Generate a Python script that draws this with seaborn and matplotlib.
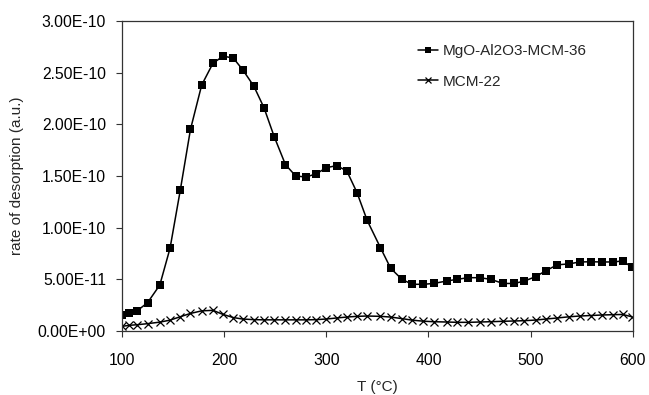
import numpy as np
import matplotlib
matplotlib.use("Agg")
import matplotlib.pyplot as plt
from matplotlib.ticker import FuncFormatter
import seaborn as sns

# temperature (°C)
temp = [100, 107, 115, 125, 137, 147, 157, 167, 178, 189, 199, 209, 218, 229, 239,
        249, 260, 270, 280, 290, 300, 310, 320, 330, 340, 353, 363, 374, 384, 395,
        405, 418, 428, 439, 450, 461, 473, 484, 494, 505, 515, 526, 538, 548, 559,
        570, 581, 590, 599]
# MgO-Al2O3-MCM-36 (x1e-11)
mgo = [1.55, 1.71, 1.97, 2.74, 4.45, 8.0, 13.6, 19.5, 23.8, 25.9, 26.6, 26.4, 25.3,
       23.7, 21.6, 18.8, 16.1, 15.0, 14.9, 15.2, 15.8, 16.0, 15.5, 13.4, 10.7, 8.06,
       6.07, 5.0, 4.52, 4.52, 4.6, 4.84, 5.0, 5.16, 5.16, 5.0, 4.6, 4.6, 4.84, 5.26,
       5.84, 6.4, 6.5, 6.68, 6.7, 6.68, 6.68, 6.78, 6.2]
# MCM-22 (x1e-11)
mcm = [0.45, 0.55, 0.61, 0.71, 0.86, 1.05, 1.38, 1.7, 1.95, 2.0, 1.6, 1.3, 1.16,
       1.1, 1.08, 1.08, 1.08, 1.08, 1.08, 1.1, 1.16, 1.26, 1.35, 1.42, 1.45, 1.42,
       1.35, 1.2, 1.05, 0.95, 0.9, 0.87, 0.84, 0.84, 0.87, 0.9, 0.94, 0.97, 1.0,
       1.06, 1.16, 1.26, 1.38, 1.45, 1.5, 1.55, 1.58, 1.6, 1.38]

sns.set_style("ticks")
plt.rcParams['font.family'] = ['Liberation Sans', 'DejaVu Sans']

fig = plt.figure(figsize=(6.49, 3.95), dpi=100)
ax = fig.add_axes([0.188, 0.162, 0.787, 0.785])

sns.lineplot(x=temp, y=np.array(mgo) * 1e-11, marker='s', markersize=6,
             markeredgewidth=0, color='black', linewidth=1.1,
             label='MgO-Al2O3-MCM-36', ax=ax)
sns.lineplot(x=temp, y=np.array(mcm) * 1e-11, marker='x', markersize=6,
             markeredgewidth=0.9, markeredgecolor='black', color='black',
             linewidth=1.1, label='MCM-22', ax=ax)

ax.set_xlim(100, 600)
ax.set_ylim(0, 3e-10)
ax.set_xticks([100, 200, 300, 400, 500, 600])
ax.set_yticks(np.arange(0, 3.01e-10, 5e-11))
ax.yaxis.set_major_formatter(FuncFormatter(lambda v, p: f"{v:.2E}"))
ax.tick_params(axis='both', labelsize=11.3, length=4.5, width=0.8, color='#333333',
               labelcolor='black')
ax.tick_params(axis='x', pad=11)
ax.tick_params(axis='y', pad=7)
ax.yaxis.get_offset_text().set_visible(False)
for s in ax.spines.values():
    s.set_visible(True)
    s.set_color('#333333')
    s.set_linewidth(0.9)

ax.set_xlabel('T (°C)', fontsize=11, labelpad=9)
ax.set_ylabel('rate of desorption (a.u.)', fontsize=11, labelpad=10)

ax.legend(loc='upper left', bbox_to_anchor=(0.553, 0.97), frameon=False,
          fontsize=11, handlelength=1.3, handletextpad=0.3, labelspacing=1.1,
          markerscale=0.75)

fig.savefig('out.png', dpi=100)
